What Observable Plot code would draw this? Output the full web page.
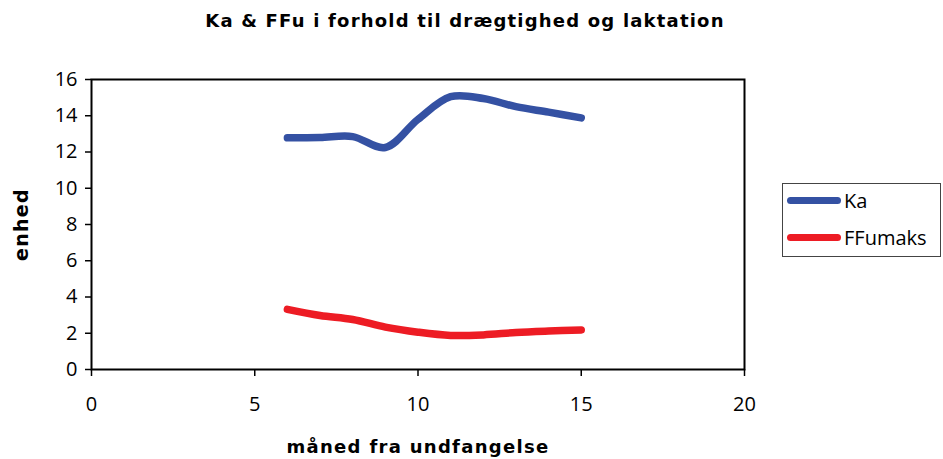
<!DOCTYPE html>
<html>
<head>
<meta charset="utf-8">
<script src="https://cdn.jsdelivr.net/npm/d3@7"></script>
<script src="https://cdn.jsdelivr.net/npm/@observablehq/plot@0.6"></script>
<style>
  html, body { margin: 0; padding: 0; background: #fff; }
  body { width: 943px; height: 459px; position: relative; overflow: hidden; font-family: "Open Sans", sans-serif; }
  #title { position: absolute; left: 0; top: 0; width: 930px; height: 42px; line-height: 42px; text-align: center; font-family: "DejaVu Sans", sans-serif; font-weight: bold; font-size: 18px; letter-spacing: 1.2px; color: #000; }
  #chart { position: absolute; left: 0; top: 42px; }
  #legend { position: absolute; left: 782px; top: 183px; width: 159px; height: 74px; border: 1px solid #444; box-sizing: border-box; font-size: 20px; color: #000; }
  .item { position: absolute; left: 4px; height: 24px; display: flex; align-items: center; }
  .swatch { width: 54px; height: 7px; border-radius: 4px; margin-right: 3px; }
  .axtitle text { letter-spacing: 1.3px; }
</style>
</head>
<body>
<div id="title">Ka &amp; FFu i forhold til drægtighed og laktation</div>
<div id="chart"></div>
<div id="legend"></div>
<script>
const months = [6, 7, 8, 9, 10, 11, 12, 13, 14, 15];
const ka = [12.78, 12.8, 12.85, 12.25, 13.8, 15.05, 14.95, 14.5, 14.2, 13.88];
const ffumaks = [3.32, 2.98, 2.76, 2.34, 2.06, 1.88, 1.91, 2.04, 2.12, 2.18];
const seriesNames = ["Ka", "FFumaks"];
const seriesColors = ["#3451a3", "#ed1c24"];
const xTicks = [0, 5, 10, 15, 20];
const yTicks = [0, 2, 4, 6, 8, 10, 12, 14, 16];

const data = [];
months.forEach((m, i) => {
  data.push({month: m, value: ka[i], series: seriesNames[0]});
  data.push({month: m, value: ffumaks[i], series: seriesNames[1]});
});

const plot = Plot.plot({
  width: 943,
  height: 417,
  marginLeft: 91,
  marginRight: 199,
  marginTop: 37,
  marginBottom: 90,
  style: {fontFamily: "Open Sans, sans-serif", fontSize: "20px", color: "#000", background: "#fff"},
  x: {domain: [0, 20], label: null},
  y: {domain: [0, 16], label: null},
  color: {domain: seriesNames, range: seriesColors},
  marks: [
    Plot.frame({stroke: "#000", strokeWidth: 2}),
    Plot.axisX({ticks: xTicks, tickSize: 7, tickPadding: 20, fontSize: 20, strokeWidth: 1.5, label: null}),
    Plot.axisY({ticks: yTicks, tickSize: 6, tickPadding: 8, fontSize: 20, strokeWidth: 1.5, label: null}),
    Plot.line(data, {x: "month", y: "value", z: "series", stroke: "series", strokeWidth: 7.5, curve: "catmull-rom", strokeLinecap: "round", strokeLinejoin: "round"}),
    Plot.text(["måned fra undfangelse"], {frameAnchor: "bottom", lineAnchor: "middle", dy: 78, text: d => d, fontFamily: "DejaVu Sans, sans-serif", fontWeight: "bold", fontSize: 18, className: "axtitle"}),
    Plot.text(["enhed"], {frameAnchor: "left", textAnchor: "middle", lineAnchor: "middle", dx: -70, rotate: -90, text: d => d, fontFamily: "DejaVu Sans, sans-serif", fontWeight: "bold", fontSize: 19, className: "axtitle"})
  ]
});
document.getElementById("chart").appendChild(plot);

const legend = document.getElementById("legend");
seriesNames.forEach((name, i) => {
  const item = document.createElement("div");
  item.className = "item";
  item.style.top = (i === 0 ? 4 : 41) + "px";
  const sw = document.createElement("div");
  sw.className = "swatch";
  sw.style.background = seriesColors[i];
  const label = document.createElement("span");
  label.textContent = name;
  item.appendChild(sw);
  item.appendChild(label);
  legend.appendChild(item);
});
</script>
</body>
</html>
